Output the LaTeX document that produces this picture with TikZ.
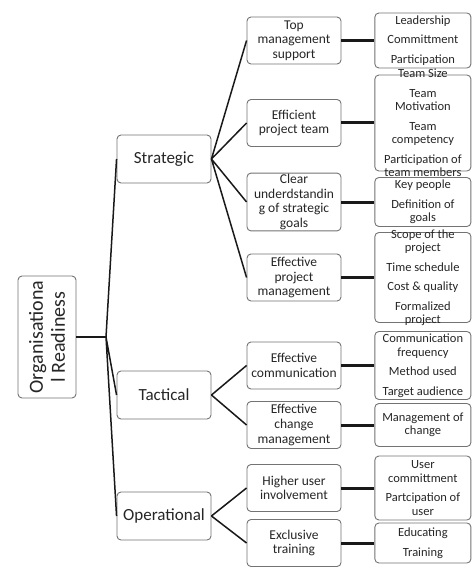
\documentclass[tikz,border=0pt]{standalone}
\usepackage{fontspec}
\setmainfont{Carlito}
\usetikzlibrary{positioning}

\begin{document}
\begin{tikzpicture}[x=1pt,y=-1pt,
    box/.style={rectangle,draw=black!55,line width=0.9pt,rounded corners=4pt,fill=white,align=center,text=black!85,inner sep=1pt},
    rootbox/.style={box,minimum width=122pt,minimum height=58pt,rotate=90,font=\fontsize{20}{22}\selectfont},
    tier/.style={box,minimum width=94pt,minimum height=48pt,font=\fontsize{17}{19}\selectfont},
    factor/.style={box,minimum width=94pt,minimum height=47pt,font=\fontsize{13.5}{14.7}\selectfont},
    leafbox/.style={box,minimum width=96pt},
    leaftext/.style={align=center,text=black!85,inner sep=0pt,font=\fontsize{12.5}{13.5}\selectfont},
    branch/.style={line width=1.5pt,black!90},
    link/.style={line width=3pt,black!90}]
    \useasboundingbox (0,0) rectangle (473,567);
    % readiness levels
    \node[rootbox] (root) at (47,337) {Organisationa\\l Readiness};
    \node[tier] (strat) at (164,159) {Strategic};
    \node[tier] (tact) at (164,395) {Tactical};
    \node[tier] (oper) at (164,516) {Operational};
    % factors
    \node[factor] (topmgmt) at (294,40.5) {Top\\management\\support};
    \node[factor] (team) at (294,123) {Efficient\\project team};
    \node[factor] (goals) at (294,202) {Clear\\underdstandin\\g of strategic\\goals};
    \node[factor] (projmgmt) at (294,277.5) {Effective\\project\\management};
    \node[factor] (comm) at (294,365.5) {Effective\\communication};
    \node[factor] (change) at (294,425) {Effective\\change\\management};
    \node[factor] (involve) at (294,488) {Higher user\\involvement};
    \node[factor] (training) at (294,543) {Exclusive\\training};
    % items of each factor
    \node[leafbox,minimum height=55pt,right=33pt of topmgmt] (leadbox) {};
    \node[leaftext] (lead) at (leadbox) {Leadership\\[6pt]Committment\\[6pt]Participation};
    \node[leafbox,minimum height=96pt,right=33pt of team] (sizebox) {};
    \node[leaftext] (size) at (sizebox) {Team Size\\[6pt]Team\\Motivation\\[6pt]Team\\competency\\[6pt]Participation of\\team members};
    \node[leafbox,minimum height=49pt,right=33pt of goals] (keybox) {};
    \node[leaftext] (key) at (keybox) {Key people\\[6pt]Definition of\\goals};
    \node[leafbox,minimum height=90pt,right=33pt of projmgmt] (scopebox) {};
    \node[leaftext] (scope) at (scopebox) {Scope of the\\project\\[6pt]Time schedule\\[6pt]Cost \& quality\\[6pt]Formalized\\project};
    \node[leafbox,minimum height=68pt,right=33pt of comm] (freqbox) {};
    \node[leaftext] (freq) at (freqbox) {Communication\\frequency\\[6pt]Method used\\[6pt]Target audience};
    \node[leafbox,minimum height=43pt,right=33pt of change] (mchangebox) {};
    \node[leaftext] (mchange) at (mchangebox) {Management of\\change};
    \node[leafbox,minimum height=64pt,right=33pt of involve] (ucommitbox) {};
    \node[leaftext] (ucommit) at (ucommitbox) {User\\committment\\[6pt]Partcipation of\\user};
    \node[leafbox,minimum height=40pt,right=33pt of training] (educbox) {};
    \node[leaftext] (educ) at (educbox) {Educating\\[6pt]Training};
    % tree
    \coordinate (jn) at (106,337);
    \draw[branch] (root.south) -- (jn);
    \draw[branch] (jn) -- (strat.west) (jn) -- (tact.west) (jn) -- (oper.west);
    \draw[branch] (strat.east) -- (topmgmt.west) (strat.east) -- (team.west)
      (strat.east) -- (goals.west) (strat.east) -- (projmgmt.west);
    \draw[branch] (tact.east) -- (comm.west) (tact.east) -- (change.west);
    \draw[branch] (oper.east) -- (involve.west) (oper.east) -- (training.west);
    \draw[link] (topmgmt.east) -- (leadbox.west);
    \draw[link] (team.east) -- (sizebox.west);
    \draw[link] (goals.east) -- (keybox.west);
    \draw[link] (projmgmt.east) -- (scopebox.west);
    \draw[link] (comm.east) -- (freqbox.west);
    \draw[link] (change.east) -- (mchangebox.west);
    \draw[link] (involve.east) -- (ucommitbox.west);
    \draw[link] (training.east) -- (educbox.west);
\end{tikzpicture}
\end{document}
